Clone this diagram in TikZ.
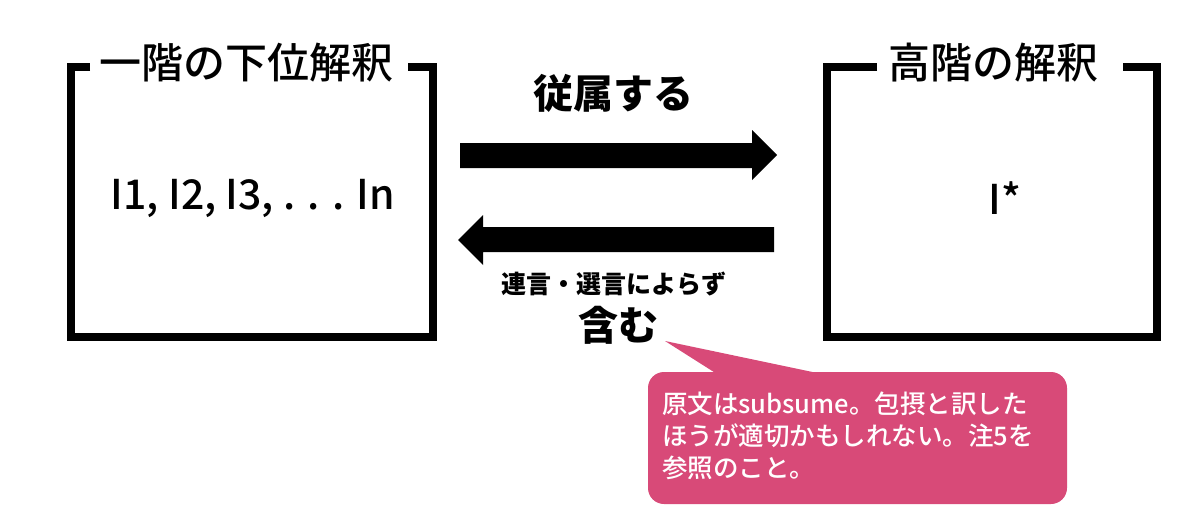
\documentclass[tikz,border=0pt]{standalone}
\usepackage{fontspec}
\setmainfont{Noto Sans CJK JP}
\IfFontExistsTF{Noto Sans CJK JP Medium}
  {\newfontfamily\jpmed{Noto Sans CJK JP Medium}}
  {\newfontfamily\jpmed{Noto Sans CJK JP}}
\definecolor{callout}{HTML}{D84A78}
\begin{document}
\begin{tikzpicture}[x=1pt,y=-1pt,
  frame/.style={line width=8.5pt, line join=miter, line cap=butt},
  bigarrow/.style={fill=black},
  ttl/.style={font=\fontsize{42}{50}\jpmed, inner sep=0pt},
  body/.style={font=\fontsize{41}{48}\jpmed, inner sep=0pt},
  lbl/.style={font=\fontsize{40}{48}\selectfont\bfseries, inner sep=0pt},
  small/.style={font=\fontsize{25}{30}\selectfont\bfseries, inner sep=0pt},
  note/.style={font=\fontsize{25.5}{32}\jpmed, text=white, inner sep=0pt, align=left}]
\useasboundingbox (0,0) rectangle (1200,519);
% left box
\coordinate (Lnw) at (71,67); \coordinate (Lse) at (433,337);
\draw[frame] (90,67) -- (Lnw) -- (71,337) -- (Lse) -- (433,67) -- (408,67);
\node[ttl] (Lt) at (246,63) {一階の下位解釈};
\node[body] (Lb) at (253,198) {I1, I2, I3, . . . In};
% right box
\coordinate (Rnw) at (827,67); \coordinate (Rse) at (1157,337);
\draw[frame] (877,67) -- (Rnw) -- (827,337) -- (Rse) -- (1157,67) -- (1123,67);
\node[ttl] (Rt) at (993,63) {高階の解釈};
\node[body] (Rb) at (1005,198) {I*};
% arrows
\coordinate (A1s) at (460,155); \coordinate (A1e) at (777,155);
\fill[bigarrow] (460,143) -- (752,143) -- (752,130) -- (A1e) -- (752,180) -- (752,168) -- (460,168) -- cycle;
\coordinate (A2s) at (774,240); \coordinate (A2e) at (458,240);
\fill[bigarrow] (774,227) -- (483,227) -- (483,215) -- (A2e) -- (483,265) -- (483,252) -- (774,252) -- cycle;
\node[lbl] (sub) at (613,93) {従属する};
\node[small] (cond) at (614,284) {連言・選言によらず};
\node[lbl] (inc) at (618,325) {含む};
% callout
\fill[callout, rounded corners=16pt] (648,372) rectangle (1067,504);
\coordinate (tip) at (665,341);
\fill[callout] (tip) -- (717,374) -- (822,374) -- cycle;
\node[note, anchor=north west] (cn) at (662,392) {原文はsubsume。包摂と訳した\\ほうが適切かもしれない。注5を\\参照のこと。};
\end{tikzpicture}
\end{document}
